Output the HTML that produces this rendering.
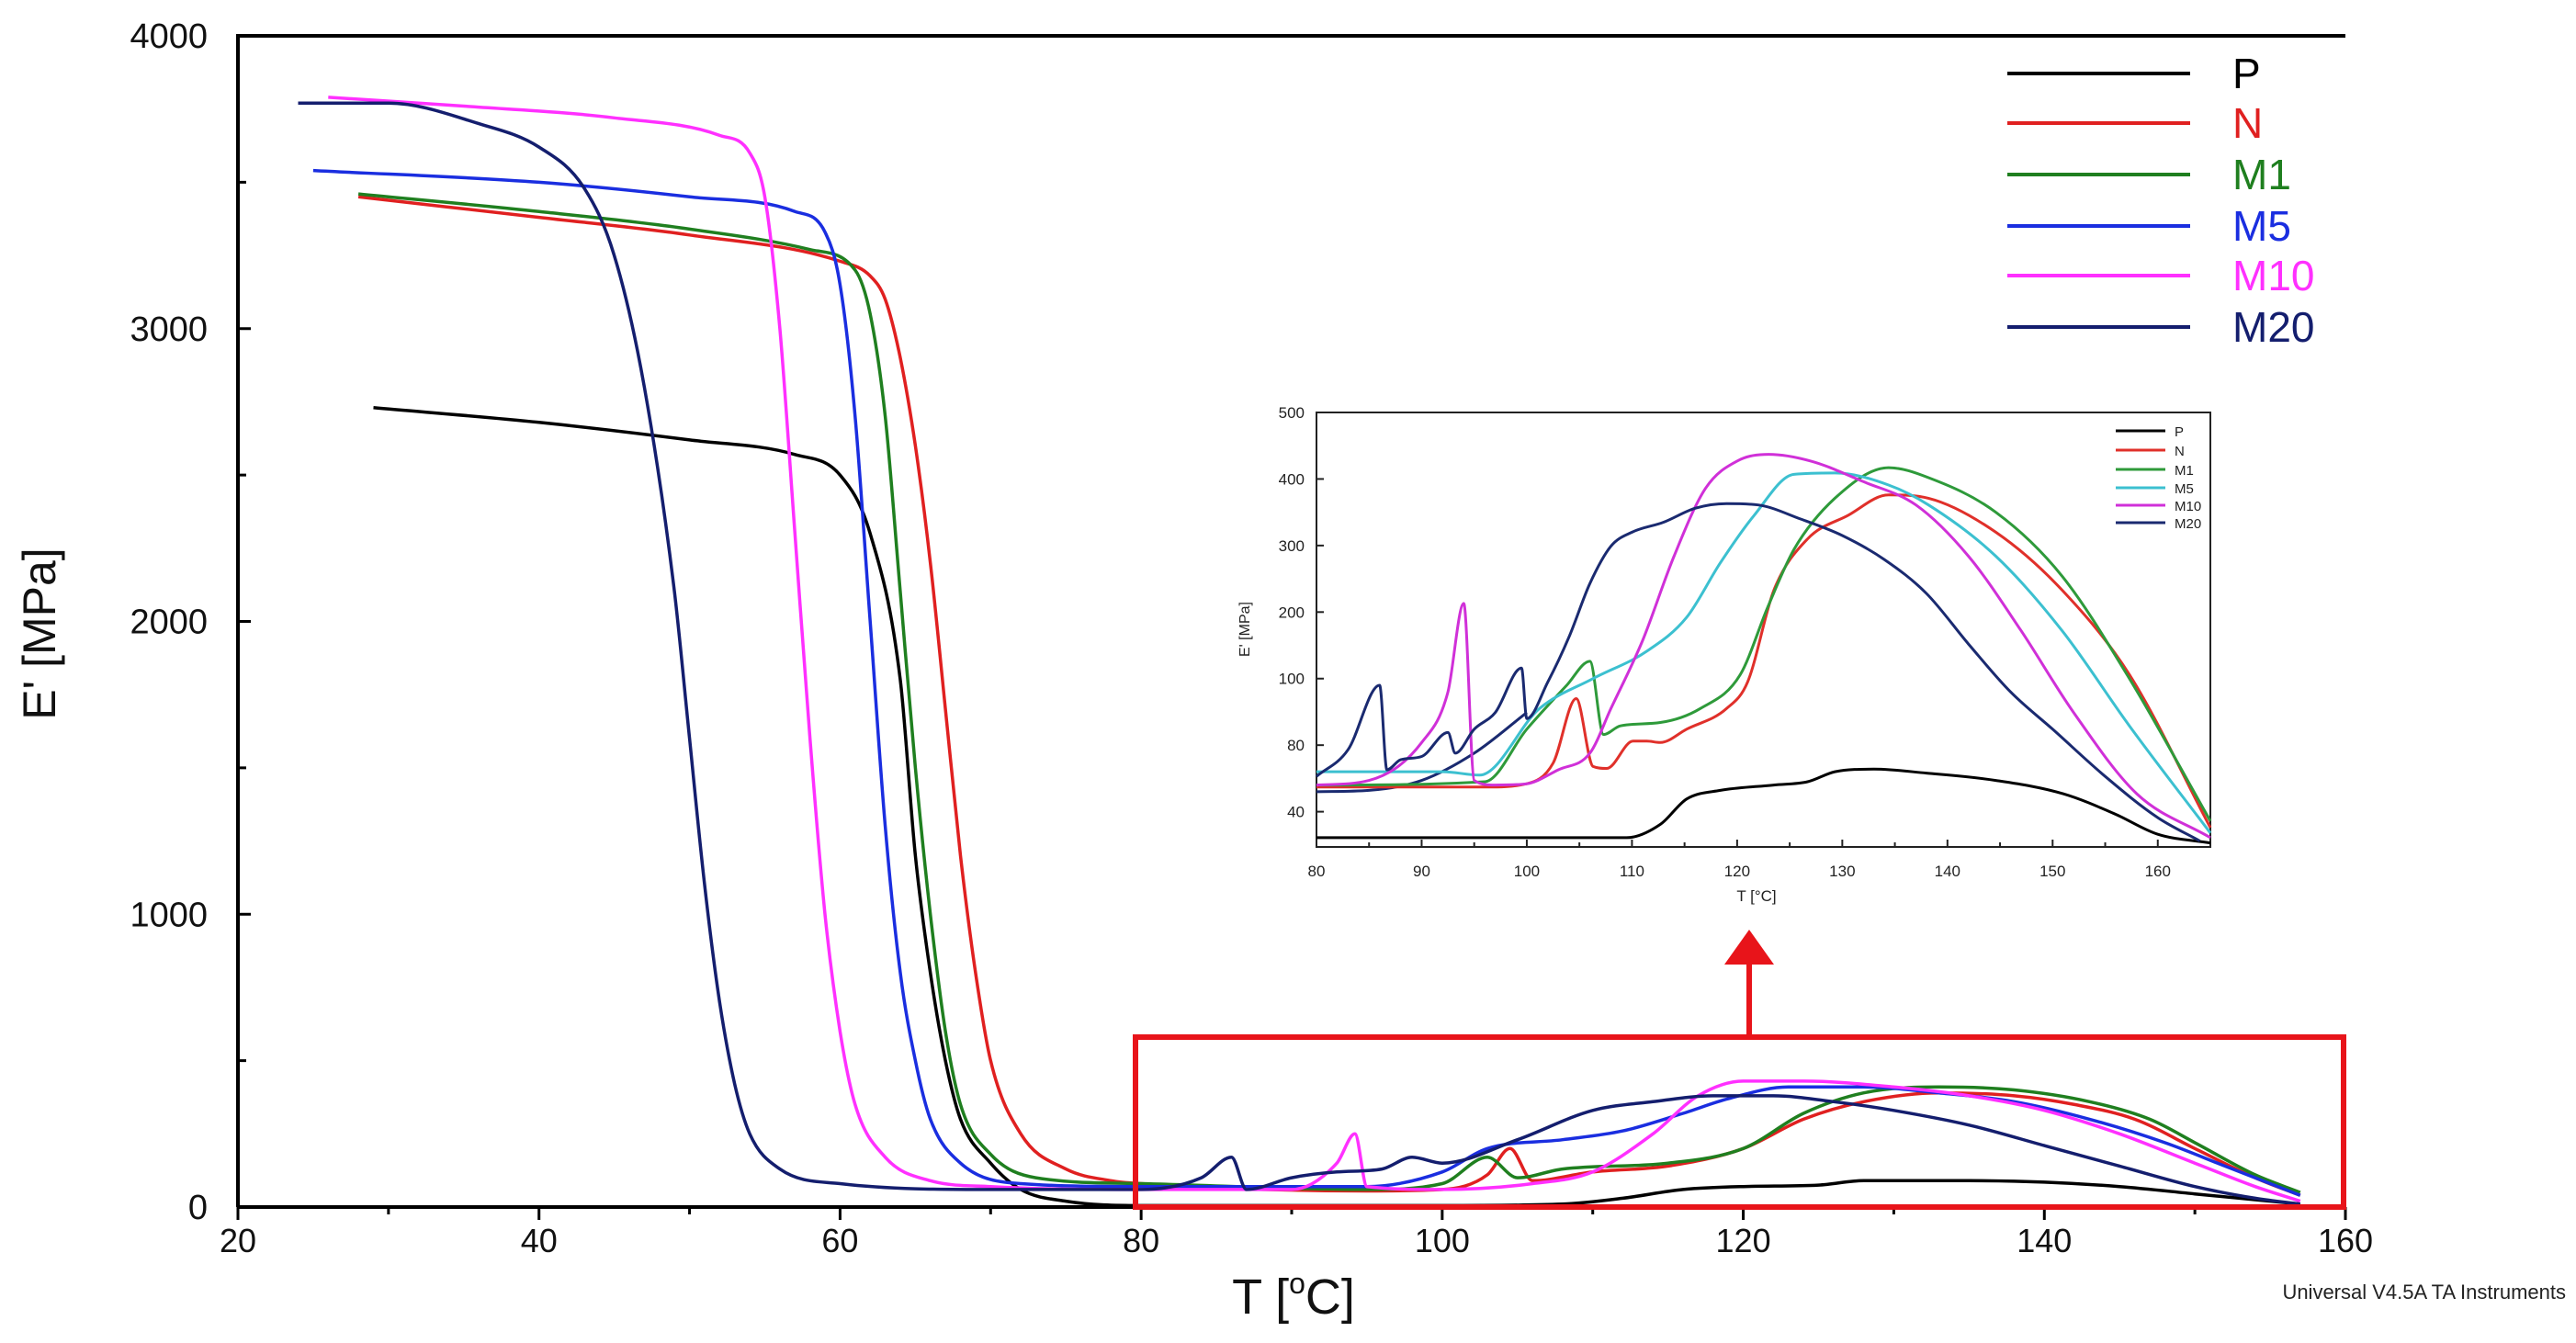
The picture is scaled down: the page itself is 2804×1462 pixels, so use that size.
<!DOCTYPE html>
<html><head><meta charset="utf-8">
<style>
html,body{margin:0;padding:0;background:#fff;}
svg{display:block;font-family:"Liberation Sans",sans-serif;}
</style></head>
<body>
<svg id="chart" width="2804" height="1462" viewBox="0 0 2804 1462">
<g id="main"></g>
<g id="inset"></g>
<text x="2793" y="1414" text-anchor="end" font-size="22" fill="#222">Universal V4.5A TA Instruments</text>
</svg>
<script>
// ---------- data: main chart (T [°C], E' [MPa]) ----------
const seriesNames = ["P","N","M1","M5","M10","M20"];
const mainColors = ["#000000","#e02020","#1f7f1f","#1a2ee0","#ff30ff","#141e6e"];
const xTicks = [20,40,60,80,100,120,140,160];
const yTicks = [0,1000,2000,3000,4000];
const mainP_T = [29,40,50,57,60,62,64,65,66,67,68,70,72,75,80,100,108,112,116,120,125,128,135,140,145,150,157];
const mainP_E = [2730,2680,2620,2570,2500,2300,1800,1200,800,500,300,150,60,20,5,5,10,30,60,70,75,90,90,85,70,45,10];
const mainN_T = [28,40,50,60,62,63,64,65,66,67,68,69,70,72,75,78,80,95,100,103,104.5,106,110,115,120,124,128,133,138,142,146,150,154,157];
const mainN_E = [3450,3380,3320,3230,3180,3100,2900,2600,2200,1700,1200,800,500,250,130,90,80,55,60,110,200,90,120,140,200,300,360,390,380,350,300,200,100,40];
const mainM1_T = [28,40,50,58,61,62,63,64,65,66,67,68,70,73,80,95,100,103,105,108,115,120,124,128,133,138,143,147,150,154,157];
const mainM1_E = [3460,3400,3340,3270,3200,3050,2700,2100,1500,1000,600,350,180,100,80,60,80,170,100,130,150,200,320,390,410,400,360,300,220,110,50];
const mainM5_T = [25,40,50,57,59,60,61,62,63,64,65,66,68,72,80,90,95,100,103,108,112,116,119,123,128,133,138,143,148,152,157];
const mainM5_E = [3540,3500,3450,3400,3330,3150,2700,2000,1300,800,500,300,150,80,70,70,70,120,200,230,260,320,370,410,410,390,360,300,220,140,40];
const mainM10_T = [26,35,45,52,54,55,56,57,58,59,60,61,63,66,70,80,90,93,94.2,95,100,106,110,114,117,120,124,130,135,140,145,150,154,157];
const mainM10_E = [3790,3760,3720,3660,3600,3450,3000,2300,1600,1000,600,350,170,90,70,60,60,150,250,70,60,80,120,250,380,430,430,410,380,330,250,150,70,20];
const mainM20_T = [24,30,36,40,43,45,47,49,50,51,52,53,54,56,60,70,80,84,86,87,90,93,96,98,100,105,110,114,118,122,126,130,135,140,145,150,154,157];
const mainM20_E = [3770,3770,3700,3620,3480,3250,2800,2100,1600,1100,700,420,250,130,80,60,60,100,170,60,100,120,130,170,150,230,330,360,380,380,360,330,280,210,140,70,30,10];

// ---------- data: inset (T, plotted position on broken axis) ----------
const insetColors = ["#000000","#e0302a","#2e9a3a","#3cc0d0","#d030d8","#1a2a70"];
const insetXTicks = [80,90,100,110,120,130,140,150,160];
const insetYTickPos = [500,400,300,200,100,0,-100];
const insetYTickLabels = ["500","400","300","200","100","80","40"];
const inP_T = [80,109.5,112.7,115.2,118.4,123.5,126.7,129.3,133,138,144.6,151,156,160,165];
const inP_V = [-139,-139,-119,-81,-68,-60,-55,-40,-36,-42,-53,-73,-104,-134,-147];
const inN_T = [80,96,100,102.5,104.7,106.3,107.6,110.1,111.4,112.7,115.2,119,121,123.5,126.7,130.5,134.4,138.2,144.6,150.9,157.3,165];
const inN_V = [-63,-63,-58,-27,70,-32,-35,6,6,4,24,55,95,233,310,345,376,371,320,233,106,-124];
const inM1_T = [80,96,100,103.8,106,107.3,108.9,112.7,116.5,120.3,122.9,125.4,129.3,134.4,138.2,144.6,150.9,157.3,165];
const inM1_V = [-60,-55,24,90,126,16,29,34,55,106,207,294,371,417,402,350,254,100,-114];
const inM5_T = [80,92,95.5,101.2,106.3,111.4,115.2,118.4,121.6,125.4,129.3,134.4,138.2,144.6,150.9,157.3,165];
const inM5_V = [-40,-40,-45,55,100,141,192,274,345,407,409,391,361,284,172,29,-132];
const inM10_T = [80,85,90,92.5,94,95,97,100,103,106,108,111,114,117,120,123,127,132,137,142,147,152,158,165];
const inM10_V = [-60,-53,4,80,213,-53,-60,-58,-37,-12,55,157,284,386,427,437,427,396,361,284,172,49,-73,-139];
const inM20_T = [80,83,86,86.7,88,90,92.5,93.2,95,97,99.5,100,102,104,106,108,110,113,116,119,122,126,130,134,138,142,146,150,155,160,164];
const inM20_V = [-47,-7,90,-37,-22,-17,19,-12,24,49,116,40,95,162,243,299,320,335,356,363,361,340,315,279,228,152,80,24,-47,-109,-144];
const inM20b_T = [80,85,90,95,100];
const inM20b_V = [-70,-68,-53,-12,49];

const NS = "http://www.w3.org/2000/svg";
function mk(parent, tag, attrs, text){
  const el = document.createElementNS(NS, tag);
  for (const k in attrs) el.setAttribute(k, attrs[k]);
  if (text !== undefined) el.textContent = text;
  parent.appendChild(el);
  return el;
}
// monotone cubic path through screen points (x increasing)
function smoothPath(px, py){
  const n = px.length;
  if (n < 3) return px.map((x,i)=>(i?'L':'M')+x.toFixed(1)+','+py[i].toFixed(1)).join(' ');
  const d = [], m = new Array(n);
  for (let i=0;i<n-1;i++) d.push((py[i+1]-py[i])/Math.max(px[i+1]-px[i],1e-6));
  m[0]=d[0]; m[n-1]=d[n-2];
  for (let i=1;i<n-1;i++) m[i] = (d[i-1]*d[i] <= 0) ? 0 : (d[i-1]+d[i])/2;
  for (let i=0;i<n-1;i++){
    if (d[i]===0){m[i]=0;m[i+1]=0;continue;}
    const a=m[i]/d[i], b=m[i+1]/d[i], s=a*a+b*b;
    if (s>9){const t=3/Math.sqrt(s); m[i]=t*a*d[i]; m[i+1]=t*b*d[i];}
  }
  let s = 'M'+px[0].toFixed(1)+','+py[0].toFixed(1);
  for (let i=0;i<n-1;i++){
    const h=(px[i+1]-px[i])/3;
    s += ` C${(px[i]+h).toFixed(1)},${(py[i]+m[i]*h).toFixed(1)} ${(px[i+1]-h).toFixed(1)},${(py[i+1]-m[i+1]*h).toFixed(1)} ${px[i+1].toFixed(1)},${py[i+1].toFixed(1)}`;
  }
  return s;
}

// ---------- main axes ----------
const M = {l:259, r:2553, t:39, b:1314, x0:20, x1:160, y0:0, y1:4000};
const mx = v => M.l + (v - M.x0) / (M.x1 - M.x0) * (M.r - M.l);
const my = v => M.b - (v - M.y0) / (M.y1 - M.y0) * (M.b - M.t);
const main = document.getElementById('main');

let ax = mk(main,'path',{d:`M${M.l},${M.b} L${M.r},${M.b} M${M.l},${M.b} L${M.l},${M.t} L${M.r},${M.t}`,stroke:'#000','stroke-width':4,fill:'none'});



for (let v = 20; v <= 160; v += 10) {
  const t = mk(main,'line',{x1:mx(v),x2:mx(v),y1:M.b,y2:M.b+(v%20===0?14:8),stroke:'#000','stroke-width':3});
  
  
}
xTicks.forEach(v=>{
  const t = mk(main,'text',{x:mx(v),y:1363,'text-anchor':'middle','font-size':36,fill:'#111'},String(v));
  
  
});
for (let v = 0; v <= 4000; v += 500) {
  const t = mk(main,'line',{x1:M.l,x2:M.l+(v%1000===0?14:9),y1:my(v),y2:my(v),stroke:'#000','stroke-width':3});
  
  
}
yTicks.forEach(v=>{
  const t = mk(main,'text',{x:226,y:my(v)+13,'text-anchor':'end','font-size':38,fill:'#111'},String(v));
  
  
});
let yt = mk(main,'text',{x:0,y:0,transform:'translate(60,690) rotate(-90)','text-anchor':'middle','font-size':50,fill:'#111'},"E' [MPa]");


let xt = mk(main,'text',{x:1408,y:1430,'text-anchor':'middle','font-size':54,fill:'#111'});


xt.innerHTML = 'T [<tspan font-size="32" dy="-22">o</tspan><tspan dy="22">C]</tspan>';

const mainT = [mainP_T,mainN_T,mainM1_T,mainM5_T,mainM10_T,mainM20_T];
const mainE = [mainP_E,mainN_E,mainM1_E,mainM5_E,mainM10_E,mainM20_E];
mainT.forEach((ts,i)=>{
  const d = smoothPath(ts.map(mx), mainE[i].map(my));
  const p = mk(main,'path',{d:d,stroke:mainColors[i],'stroke-width':3.5,fill:'none','stroke-linejoin':'round'});
  
  
});

// legend
const legY = [80,134,190,246,300,356];
seriesNames.forEach((n,i)=>{
  const l = mk(main,'line',{x1:2185,x2:2384,y1:legY[i],y2:legY[i],stroke:mainColors[i],'stroke-width':4});
  
  
  const t = mk(main,'text',{x:2430,y:legY[i]+16,'font-size':46,fill:mainColors[i]},n);
  
  
});

// red zoom box and arrow
let rb = mk(main,'rect',{x:1236,y:1129,width:1315,height:185,fill:'none',stroke:'#e8141a','stroke-width':6});


let ar = mk(main,'line',{x1:1904,x2:1904,y1:1129,y2:1045,stroke:'#e8141a','stroke-width':6});


let ah = mk(main,'polygon',{points:'1904,1012 1877,1050 1931,1050',fill:'#e8141a'});



// ---------- inset ----------
const I = {l:1433, r:2406, t:449, b:922, x0:80, x1:165, y0:-153, y1:500};
const ix = v => I.l + (v - I.x0) / (I.x1 - I.x0) * (I.r - I.l);
const iy = v => I.b - (v - I.y0) / (I.y1 - I.y0) * (I.b - I.t);
const inset = document.getElementById('inset');
let ib = mk(inset,'rect',{x:I.l,y:I.t,width:I.r-I.l,height:I.b-I.t,fill:'#fff',stroke:'#222','stroke-width':2});


for (let v = 80; v <= 165; v += 5) {
  const t = mk(inset,'line',{x1:ix(v),x2:ix(v),y1:I.b,y2:I.b-(v%10===0?8:5),stroke:'#222','stroke-width':2});
  
  
}
insetXTicks.forEach(v=>{
  const t = mk(inset,'text',{x:ix(v),y:954,'text-anchor':'middle','font-size':17,fill:'#222'},String(v));
  
  
});
insetYTickPos.forEach((v,k)=>{
  const t = mk(inset,'line',{x1:I.l,x2:I.l+8,y1:iy(v),y2:iy(v),stroke:'#222','stroke-width':2});
  
  
  const s = mk(inset,'text',{x:1420,y:iy(v)+6,'text-anchor':'end','font-size':17,fill:'#222'},insetYTickLabels[k]);
  
  
});
let ixt = mk(inset,'text',{x:1912,y:981,'text-anchor':'middle','font-size':17,fill:'#222'},'T [°C]');


let iyt = mk(inset,'text',{x:0,y:0,transform:'translate(1360,685) rotate(-90)','text-anchor':'middle','font-size':16,fill:'#222'},"E' [MPa]");



const inT = [inP_T,inN_T,inM1_T,inM5_T,inM10_T,inM20_T];
const inV = [inP_V,inN_V,inM1_V,inM5_V,inM10_V,inM20_V];
function insetLine(ts, vs, color, name){
  const d = smoothPath(ts.map(ix), vs.map(iy));
  const p = mk(inset,'path',{d:d,stroke:color,'stroke-width':3,fill:'none','stroke-linejoin':'round'});
  
  
}
insetLine(inM20b_T, inM20b_V, insetColors[5], 'inset-line-m20-second-run');
inT.forEach((ts,i)=>insetLine(ts, inV[i], insetColors[i], 'inset-line-'+seriesNames[i].toLowerCase()));

const iLegY = [469,490,511,531,550,569];
seriesNames.forEach((n,i)=>{
  const l = mk(inset,'line',{x1:2303,x2:2357,y1:iLegY[i],y2:iLegY[i],stroke:insetColors[i],'stroke-width':3});
  
  
  const t = mk(inset,'text',{x:2367,y:iLegY[i]+6,'font-size':15,fill:'#222'},n);
  
  
});
</script>
</body></html>
